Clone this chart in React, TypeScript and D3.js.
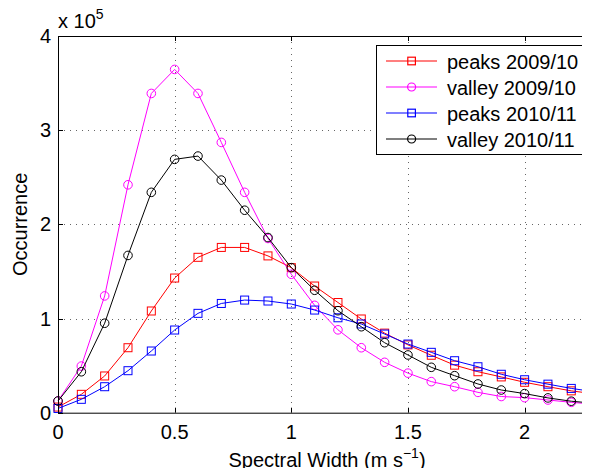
import React, { useRef, useEffect } from "react";
import * as d3 from "d3";

// spectral width bins (m s^-1)
const widths = [0, 0.1, 0.2, 0.3, 0.4, 0.5, 0.6, 0.7, 0.8, 0.9, 1.0, 1.1, 1.2, 1.3, 1.4, 1.5, 1.6, 1.7, 1.8, 1.9, 2.0, 2.1, 2.2, 2.3];

// occurrence, in units of 1e5
const peaks0910 = [0.06, 0.195, 0.39, 0.69, 1.08, 1.43, 1.65, 1.755, 1.755, 1.665, 1.54, 1.345, 1.17, 0.995, 0.845, 0.72, 0.61, 0.505, 0.435, 0.38, 0.323, 0.276, 0.232, 0.2];
const valley0910 = [0.125, 0.495, 1.24, 2.42, 3.39, 3.645, 3.39, 2.87, 2.34, 1.85, 1.47, 1.14, 0.88, 0.69, 0.535, 0.42, 0.33, 0.276, 0.216, 0.172, 0.16, 0.135, 0.11, 0.09];
const peaks1011 = [0.045, 0.142, 0.276, 0.446, 0.655, 0.878, 1.055, 1.16, 1.196, 1.186, 1.154, 1.09, 1.008, 0.942, 0.835, 0.729, 0.641, 0.552, 0.488, 0.408, 0.35, 0.303, 0.258, 0.222];
const valley1011 = [0.124, 0.435, 0.95, 1.67, 2.34, 2.69, 2.725, 2.47, 2.15, 1.86, 1.54, 1.3, 1.083, 0.913, 0.743, 0.613, 0.482, 0.393, 0.305, 0.241, 0.203, 0.157, 0.122, 0.1];

const xTicks = [0, 0.5, 1, 1.5, 2];
const yTicks = [0, 1, 2, 3, 4];

const series = [
  { name: "peaks 2009/10", values: peaks0910, color: "#ff0000", marker: "square" },
  { name: "valley 2009/10", values: valley0910, color: "#ff00ff", marker: "circle" },
  { name: "peaks 2010/11", values: peaks1011, color: "#0000ff", marker: "square" },
  { name: "valley 2010/11", values: valley1011, color: "#000000", marker: "circle" },
];

function App() {
  const svgRef = useRef<SVGSVGElement>(null);

  useEffect(() => {
    const svg = d3.select(svgRef.current);
    svg.selectAll("*").remove();

    const width = 590;
    const height = 476;
    const left = 58;
    const right = 594.6;
    const top = 36;
    const bottom = 412.7;
    const font = "'Liberation Sans', Arial, sans-serif";

    const x = d3.scaleLinear().domain([0, 2.3]).range([left, right]);
    const y = d3.scaleLinear().domain([0, 4]).range([bottom, top]);

    svg.append("rect").attr("width", width).attr("height", height).attr("fill", "white");

    // dotted grid
    const grid = svg.append("g").attr("stroke", "#666").attr("stroke-width", 1).attr("stroke-dasharray", "1,5");
    xTicks.filter((t) => t > 0).forEach((t) => {
      grid.append("line")
        .attr("x1", Math.round(x(t)) + 0.5).attr("x2", Math.round(x(t)) + 0.5)
        .attr("y1", top).attr("y2", bottom);
    });
    yTicks.filter((t) => t > 0 && t < 4).forEach((t) => {
      grid.append("line")
        .attr("y1", Math.round(y(t)) + 0.5).attr("y2", Math.round(y(t)) + 0.5)
        .attr("x1", left).attr("x2", right);
    });

    // lines and markers
    const line = d3.line<number>()
      .x((d, i) => x(widths[i]))
      .y((d) => y(d));

    const plot = svg.append("g");
    series.forEach((s) => {
      plot.append("path")
        .datum(s.values)
        .attr("d", line)
        .attr("fill", "none")
        .attr("stroke", s.color)
        .attr("stroke-width", 1);

      if (s.marker === "square") {
        plot.selectAll(null)
          .data(s.values)
          .enter()
          .append("rect")
          .attr("x", (d, i) => x(widths[i]) - 4)
          .attr("y", (d) => y(d) - 4)
          .attr("width", 8)
          .attr("height", 8)
          .attr("fill", "none")
          .attr("stroke", s.color);
      } else {
        plot.selectAll(null)
          .data(s.values)
          .enter()
          .append("circle")
          .attr("cx", (d, i) => x(widths[i]))
          .attr("cy", (d) => y(d))
          .attr("r", 4.3)
          .attr("fill", "none")
          .attr("stroke", s.color);
      }
    });

    // axes box and inward ticks
    const axes = svg.append("g").attr("stroke", "black").attr("stroke-width", 1).attr("fill", "none");
    axes.append("line").attr("x1", left).attr("x2", right).attr("y1", bottom + 0.5).attr("y2", bottom + 0.5);
    axes.append("line").attr("x1", left).attr("x2", right).attr("y1", top + 0.5).attr("y2", top + 0.5);
    axes.append("line").attr("x1", left + 0.5).attr("x2", left + 0.5).attr("y1", top).attr("y2", bottom + 1);
    xTicks.forEach((t) => {
      const px = Math.round(x(t)) + 0.5;
      axes.append("line").attr("x1", px).attr("x2", px).attr("y1", bottom).attr("y2", bottom - 5);
      axes.append("line").attr("x1", px).attr("x2", px).attr("y1", top).attr("y2", top + 5);
    });
    yTicks.forEach((t) => {
      const py = Math.round(y(t)) + 0.5;
      axes.append("line").attr("x1", left).attr("x2", left + 5).attr("y1", py).attr("y2", py);
    });

    // tick labels
    const labels = svg.append("g").attr("font-family", font).attr("font-size", 20).attr("fill", "black");
    xTicks.forEach((t) => {
      labels.append("text")
        .attr("x", x(t))
        .attr("y", 438.5)
        .attr("text-anchor", "middle")
        .text(String(t));
    });
    yTicks.forEach((t) => {
      labels.append("text")
        .attr("x", 51)
        .attr("y", y(t) + 7)
        .attr("text-anchor", "end")
        .text(String(t));
    });

    // exponent
    const expo = labels.append("text").attr("x", 58).attr("y", 28);
    expo.append("tspan").text("x 10");
    expo.append("tspan").attr("font-size", 14).attr("dy", -9).text("5");

    // axis titles
    const xl = labels.append("text")
      .attr("x", 327)
      .attr("y", 467)
      .attr("text-anchor", "middle");
    xl.append("tspan").text("Spectral Width (m s");
    xl.append("tspan").attr("font-size", 14).attr("dy", -9).text("\u22121");
    xl.append("tspan").attr("dy", 9).text(")");

    labels.append("text")
      .attr("transform", `translate(27, ${(top + bottom) / 2}) rotate(-90)`)
      .attr("text-anchor", "middle")
      .text("Occurrence");

    // legend
    const legend = svg.append("g");
    legend.append("rect")
      .attr("x", 376.5).attr("y", 45.5)
      .attr("width", 209).attr("height", 109)
      .attr("fill", "white").attr("stroke", "black").attr("stroke-width", 1);

    series.forEach((s, i) => {
      const cy = 61 + i * 26;
      legend.append("line")
        .attr("x1", 386).attr("x2", 437)
        .attr("y1", cy).attr("y2", cy)
        .attr("stroke", s.color).attr("stroke-width", 1.2);
      if (s.marker === "square") {
        legend.append("rect")
          .attr("x", 407.8).attr("y", cy - 3.8)
          .attr("width", 7.6).attr("height", 7.6)
          .attr("fill", "none").attr("stroke", s.color).attr("stroke-width", 1.2);
      } else {
        legend.append("circle")
          .attr("cx", 411.6).attr("cy", cy).attr("r", 4)
          .attr("fill", "none").attr("stroke", s.color).attr("stroke-width", 1.2);
      }
      legend.append("text")
        .attr("x", 447).attr("y", cy + 7.5)
        .attr("font-family", font).attr("font-size", 20)
        .attr("fill", "black")
        .text(s.name);
    });
  }, []);

  return (
    <div style={{ margin: -8, width: 590, height: 476, overflow: "hidden" }}>
      <svg ref={svgRef} width={590} height={476} style={{ display: "block" }}></svg>
    </div>
  );
}

export default App;
